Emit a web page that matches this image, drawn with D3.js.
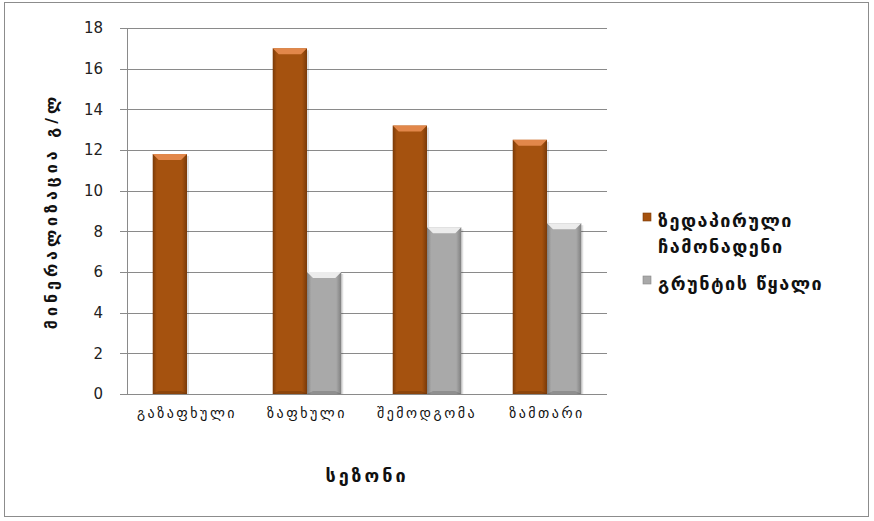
<!DOCTYPE html>
<html>
<head>
<meta charset="utf-8">
<script src="https://cdn.jsdelivr.net/npm/d3@7"></script>
<style>
  body { margin: 0; background: #fff; }
  svg { display: block; }
  text { font-family: "DejaVu Sans", sans-serif; }
</style>
</head>
<body>
<div id="chart"></div>
<script>
// Datos del gráfico
const seasons = ["გაზაფხული", "ზაფხული", "შემოდგომა", "ზამთარი"];
const seriesNames = ["ზედაპირული ჩამონადენი", "გრუნტის წყალი"];
const surfaceRunoff = [11.8, 17.0, 13.2, 12.5];
const groundWater = [null, 6.0, 8.2, 8.4];
const yTicks = [0, 2, 4, 6, 8, 10, 12, 14, 16, 18];

const width = 874, height = 521;
const margin = { left: 127, right: 267, top: 28, bottom: 127 };
const innerW = width - margin.left - margin.right;
const innerH = height - margin.top - margin.bottom;

const svg = d3.select("#chart").append("svg")
    .attr("width", width)
    .attr("height", height);

// Gradientes para el efecto biselado
const defs = svg.append("defs");
function makeGrad(id, edge, mid) {
    const g = defs.append("linearGradient").attr("id", id)
        .attr("x1", "0%").attr("x2", "100%").attr("y1", "0%").attr("y2", "0%");
    g.append("stop").attr("offset", "0%").attr("stop-color", edge);
    g.append("stop").attr("offset", "12%").attr("stop-color", mid);
    g.append("stop").attr("offset", "85%").attr("stop-color", mid);
    g.append("stop").attr("offset", "100%").attr("stop-color", edge);
}
makeGrad("gOrange", "#7a3a08", "#a5520f");
makeGrad("gGrey", "#7f7f7f", "#a9a9a9");
const colors = [
    { fill: "url(#gOrange)", top: "#e2874a", swatch: "#a5520f" },
    { fill: "url(#gGrey)", top: "#ececec", swatch: "#a9a9a9" }
];

// Marco exterior
svg.append("rect")
    .attr("x", 4.5).attr("y", 2.5)
    .attr("width", 864).attr("height", 514)
    .attr("fill", "#fff").attr("stroke", "#8c8c8c");

const g = svg.append("g").attr("transform", `translate(${margin.left},${margin.top})`);

const y = d3.scaleLinear().domain([0, 18]).range([innerH, 0]);
// ancho de separación 150%: cada categoría = 2 barras + 1.5 anchos de barra
const cat = d3.scaleBand().domain(seasons).range([0, innerW]);
const barW = cat.bandwidth() / 3.5;
const x1 = d3.scaleBand().domain([0, 1]).range([0, barW * 2]);

// Líneas de cuadrícula
g.selectAll(".grid").data(yTicks).enter().append("line")
    .attr("x1", -7).attr("x2", innerW)
    .attr("y1", d => Math.round(y(d)) + 0.5).attr("y2", d => Math.round(y(d)) + 0.5)
    .attr("stroke", "#8a8a8a").attr("stroke-width", 1);

// Eje vertical
g.append("line")
    .attr("x1", 0.5).attr("x2", 0.5).attr("y1", 0).attr("y2", innerH)
    .attr("stroke", "#8a8a8a");

// Etiquetas del eje Y
const yAxis = d3.axisLeft(y).tickValues(yTicks).tickSize(0).tickPadding(24);
const ya = g.append("g").call(yAxis);
ya.select(".domain").remove();
ya.selectAll("text").attr("font-size", 15).attr("fill", "#222")
    .attr("font-family", "'Liberation Sans', sans-serif");

// Barras
const data = [surfaceRunoff, groundWater];
data.forEach((vals, si) => {
    vals.forEach((v, ci) => {
        if (v == null) return;
        const bx = cat(seasons[ci]) + (cat.bandwidth() - barW * 2) / 2 + x1(si);
        const by = y(v);
        const bh = innerH - by;
        const bw = x1.bandwidth();
        // sombra
        g.append("rect").attr("x", bx + 2).attr("y", by + 2)
            .attr("width", bw).attr("height", bh - 2)
            .attr("fill", "#000").attr("opacity", 0.12);
        g.append("rect").attr("x", bx).attr("y", by)
            .attr("width", bw).attr("height", bh)
            .attr("fill", colors[si].fill);
        // bisel superior
        const b = 6;
        g.append("path")
            .attr("d", `M${bx},${by}L${bx + bw},${by}L${bx + bw - b},${by + b}L${bx + b},${by + b}Z`)
            .attr("fill", colors[si].top);
        // bisel inferior
        g.append("path")
            .attr("d", `M${bx},${by + bh}L${bx + bw},${by + bh}L${bx + bw - b},${by + bh - 3}L${bx + b},${by + bh - 3}Z`)
            .attr("fill", "#000").attr("opacity", 0.15);
    });
});

// Etiquetas de categorías
g.selectAll(".cat").data(seasons).enter().append("text")
    .attr("x", d => cat(d) + cat.bandwidth() / 2)
    .attr("y", innerH + 24)
    .attr("text-anchor", "middle")
    .attr("font-size", 14)
    .attr("letter-spacing", 2.5)
    .attr("fill", "#111")
    .text(d => d);

// Título eje X
g.append("text")
    .attr("x", innerW / 2).attr("y", innerH + 88)
    .attr("text-anchor", "middle")
    .attr("font-size", 18).attr("font-weight", "bold").attr("fill", "#111")
    .attr("letter-spacing", 3)
    .text("სეზონი");

// Título eje Y
svg.append("text")
    .attr("transform", `translate(57,${margin.top + innerH / 2}) rotate(-90)`)
    .attr("text-anchor", "middle")
    .attr("font-size", 16).attr("font-weight", "bold").attr("fill", "#111")
    .attr("letter-spacing", 4)
    .text("მინერალიზაცია გ/ლ");

// Leyenda
const legend = svg.append("g").attr("transform", "translate(643,0)");
const legendRows = [
    { lines: ["ზედაპირული", "ჩამონადენი"], y: 213 },
    { lines: [seriesNames[1]], y: 276 }
];
legendRows.forEach((row, i) => {
    legend.append("rect")
        .attr("x", 0).attr("y", row.y)
        .attr("width", 8).attr("height", 8)
        .attr("fill", colors[i].swatch).attr("stroke", i === 0 ? "#7a3a08" : "#888").attr("stroke-width", 0.6);
    row.lines.forEach((ln, j) => {
        legend.append("text")
            .attr("x", 15).attr("y", row.y + 14 + j * 26)
            .attr("font-size", 18).attr("font-weight", "bold").attr("fill", "#111")
            .attr("letter-spacing", 1.5)
            .text(ln);
    });
});
</script>
</body>
</html>
